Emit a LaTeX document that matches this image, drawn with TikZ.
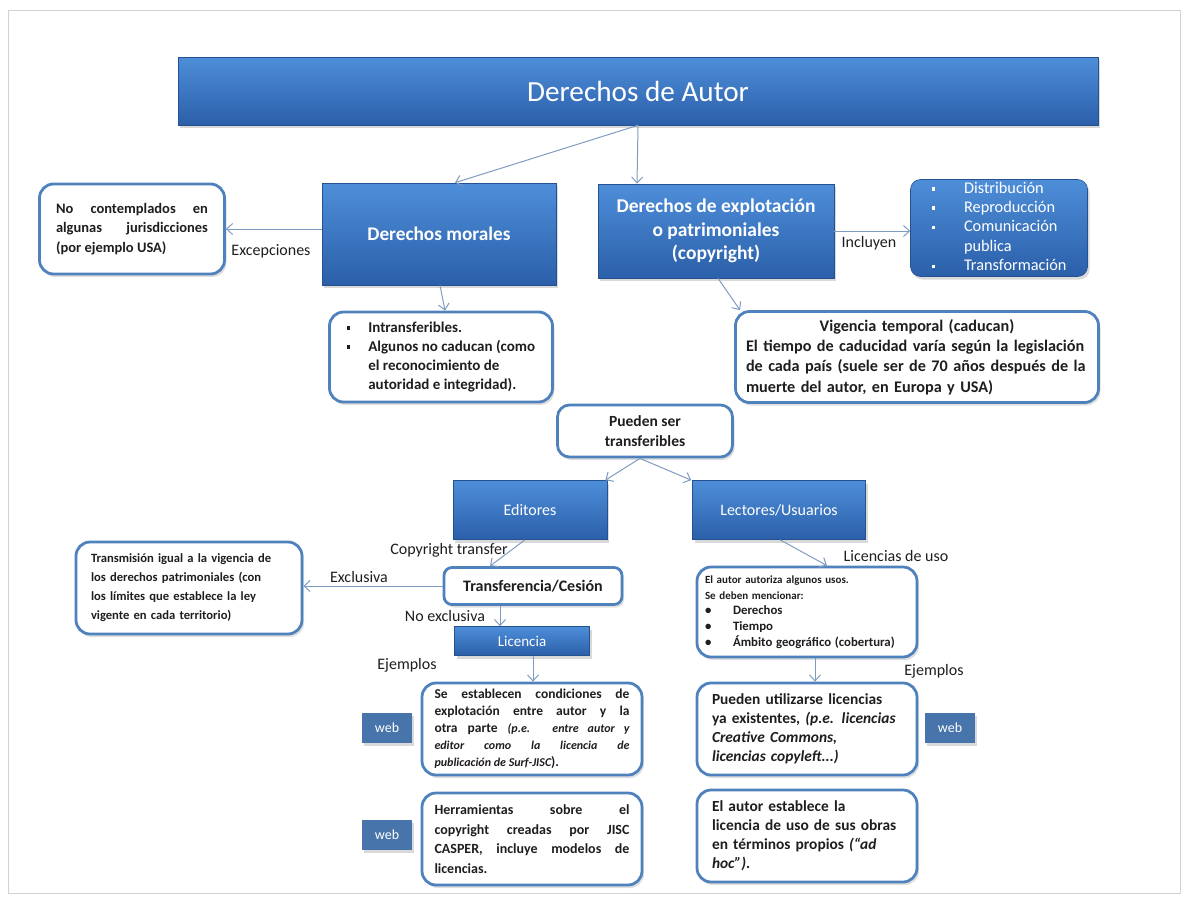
\documentclass[tikz,border=0pt]{standalone}
\usepackage{fontspec}
\setmainfont{Carlito}
\usetikzlibrary{arrows.meta,shadows,calc}
\definecolor{bbord}{HTML}{4F81BD}
\definecolor{btop}{HTML}{4E8ED9}
\definecolor{bbot}{HTML}{2B5FA9}
\definecolor{arr}{HTML}{7F9CC0}
\definecolor{txt}{HTML}{1E1E1E}
\newcommand{\fs}[2]{\fontsize{#1}{#2}\selectfont}
\newcommand{\sqb}{\raisebox{2.5pt}{\rule{3.5pt}{3.5pt}}}
\tikzset{
  bluebox/.style={rectangle, top color=btop, bottom color=bbot, draw=bbot!85!black,
    line width=0.6pt, text=white, align=center, inner sep=2pt,
    drop shadow={shadow xshift=2pt, shadow yshift=-3pt, opacity=0.3}},
  whitebox/.style={rectangle, rounded corners=14pt, draw=bbord, line width=2.8pt,
    fill=white, text=txt, inner sep=0pt,
    drop shadow={shadow xshift=2pt, shadow yshift=-3pt, opacity=0.25}},
  webbox/.style={rectangle, fill=bbord!90!black, text=white, inner sep=0pt,
    minimum width=50pt, minimum height=30pt, font=\fs{14}{16},
    drop shadow={shadow xshift=2pt, shadow yshift=-3pt, opacity=0.3}},
  link/.style={draw=arr, line width=1pt, -{Straight Barb[length=6pt,width=11pt]}},
  lbl/.style={text=txt, font=\fs{16}{18}, inner sep=0pt},
}
\begin{document}
\begin{tikzpicture}[x=1pt,y=-1pt]
\useasboundingbox (0,0) rectangle (1188,897);
\draw[gray!35, line width=1pt] (8,10) rectangle (1180,893);

% top level
\node[bluebox, minimum width=920, minimum height=68, font=\fs{29.2}{33}] (title) at (638,91) {Derechos de Autor};
\node[bluebox, minimum width=234, minimum height=102, font=\bfseries\fs{19.3}{23}] (morales) at (439,234) {Derechos morales};
\node[bluebox, minimum width=236, minimum height=94, font=\bfseries\fs{19.5}{23.5}] (explot) at (716,231) {Derechos de explotación\\o patrimoniales\\(copyright)};
\node[bluebox, rounded corners=10pt, minimum width=177, minimum height=96, inner sep=0pt, font=\fs{16.3}{19.4}] (incl) at (999,228)
  {\begin{tabular}{@{}l@{\hspace{29pt}}l@{}}\sqb & Distribución\\ \sqb & Reproducción\\ \sqb & Comunicación\\ & publica\\ \sqb & Transformación\end{tabular}};
\node[whitebox, minimum width=185, minimum height=90, text width=152, align=justify, font=\bfseries\fs{14.5}{19.5}] (nocont) at (132,229)
  {No contemplados en\linebreak algunas jurisdicciones\linebreak (por ejemplo USA)};

\coordinate (t0) at (title.south);
\draw[link] (t0) -- ([xshift=16pt]morales.north);
\draw[link] (t0) -- ([xshift=-79pt]explot.north);
\draw[link] (morales.west |- nocont.east) -- (nocont.east);
\draw[link] (explot.east) -- (explot.east -| incl.west);
\node[lbl] (lexc) at (271,251) {Excepciones};
\node[lbl] (linc) at (869,243) {Incluyen};

% second level
\node[whitebox, minimum width=223, minimum height=90, font=\bfseries\fs{15}{19}] (intrans) at (441,357)
  {\begin{tabular}{@{}l@{\hspace{18pt}}l@{}}\sqb & Intransferibles.\\ \sqb & Algunos no caducan (como\\ & el reconocimiento de\\ & autoridad e integridad).\end{tabular}};
\node[whitebox, minimum width=363, minimum height=91, text width=342, font=\bfseries\fs{16.2}{20.3}] (vigencia) at (917,357)
  {\centering Vigencia temporal (caducan)\par\raggedright El tiempo de caducidad varía según la legislación\\ de cada país (suele ser de 70 años después de la\\ muerte del autor, en Europa y USA)};
\draw[link] ([xshift=1pt]morales.south) -- ([xshift=4pt]intrans.north);
\draw[link] ([xshift=2pt]explot.south) -- ([xshift=-177pt]vigencia.north);

\node[whitebox, rounded corners=12pt, minimum width=175, minimum height=52, align=center, font=\bfseries\fs{15.5}{20}] (pueden) at (645,431) {Pueden ser\\transferibles};

\node[bluebox, minimum width=154, minimum height=59, font=\fs{16}{18}] (editores) at (530,510) {Editores};
\node[bluebox, minimum width=173, minimum height=59, font=\fs{16}{18}] (lectores) at (779,510) {Lectores/Usuarios};
\draw[link] ([xshift=-5pt]pueden.south) -- ([xshift=-2pt]editores.north east);
\draw[link] ([xshift=-5pt]pueden.south) -- ([xshift=-1pt]lectores.north west);

% editores branch
\node[whitebox, rounded corners=8pt, minimum width=178, minimum height=37, font=\bfseries\fs{16}{18}] (transf) at (533,586) {Transferencia/Cesión};
\node[whitebox, minimum width=226, minimum height=92, text width=196, align=left, font=\bfseries\fs{12.6}{19}] (transm) at (189,588)
  {Transmisión igual a la vigencia de\\ los derechos patrimoniales (con\\ los límites que establece la ley\\ vigente en cada territorio)};
\node[bluebox, minimum width=135, minimum height=29, font=\fs{15}{16}] (licencia) at (522,641) {Licencia};
\draw[link] ([xshift=-5pt]editores.south) -- ([xshift=-43pt]transf.north);
\draw[link] (transf.west) -- (transf.west -| transm.east);
\draw[link] ([xshift=-33pt]transf.south) -- ([xshift=-22pt]licencia.north);
\node[lbl] (lcopy) at (449,550) {Copyright transfer};
\node[lbl] (lexcl) at (359,577) {Exclusiva};
\node[lbl] (lnoex) at (445,616) {No exclusiva};

\node[whitebox, minimum width=220, minimum height=92, text width=195, align=justify, font=\bfseries\fs{13.5}{17}] (seest) at (532,729)
  {Se establecen condiciones de\linebreak explotación entre autor y la\linebreak otra parte {\itshape\fs{12}{17}(p.e. entre autor y\linebreak editor como la licencia de\linebreak publicación de Surf-JISC}).};
\node[whitebox, minimum width=220, minimum height=92, text width=195, align=justify, font=\bfseries\fs{14}{19.5}] (herr) at (532,839)
  {Herramientas sobre el\linebreak copyright creadas por JISC\linebreak CASPER, incluye modelos de\linebreak licencias.};
\node[webbox] (web1) at (387,728) {web};
\node[webbox] (web2) at (387,835) {web};
\draw[link] ([xshift=11pt]licencia.south) -- ([xshift=1pt]seest.north);
\node[lbl] (lej1) at (407,665) {Ejemplos};

% lectores branch
\node[whitebox, minimum width=220, minimum height=90, text width=204, align=left, font=\bfseries\fs{11}{16}] (autoriza) at (807,612)
  {El autor autoriza algunos usos.\\ Se deben mencionar:\\ \fs{12.8}{15.5}%
   \makebox[28pt][l]{\textbullet}Derechos\\ \makebox[28pt][l]{\textbullet}Tiempo\\ \makebox[28pt][l]{\textbullet}Ámbito geográfico (cobertura)};
\node[whitebox, minimum width=220, minimum height=92, text width=190, align=left, font=\bfseries\fs{15.4}{19}] (pueduti) at (807,729)
  {Pueden utilizarse licencias\\ ya existentes, {\itshape (p.e. licencias\\ Creative Commons,\\ licencias copyleft...)}};
\node[webbox] (web3) at (950,728) {web};
\node[whitebox, minimum width=220, minimum height=92, text width=190, align=left, font=\bfseries\fs{15.4}{19}] (establece) at (807,836)
  {El autor establece la\\ licencia de uso de sus obras\\ en términos propios {\itshape (“ad\\ hoc”)}.};
\draw[link] ([xshift=1pt]lectores.south) -- ([xshift=20pt]autoriza.north);
\draw[link] ([xshift=8pt]autoriza.south) -- ([xshift=8pt]pueduti.north);
\node[lbl] (llic) at (896,556) {Licencias de uso};
\node[lbl] (lej2) at (934,671) {Ejemplos};
\end{tikzpicture}
\end{document}
